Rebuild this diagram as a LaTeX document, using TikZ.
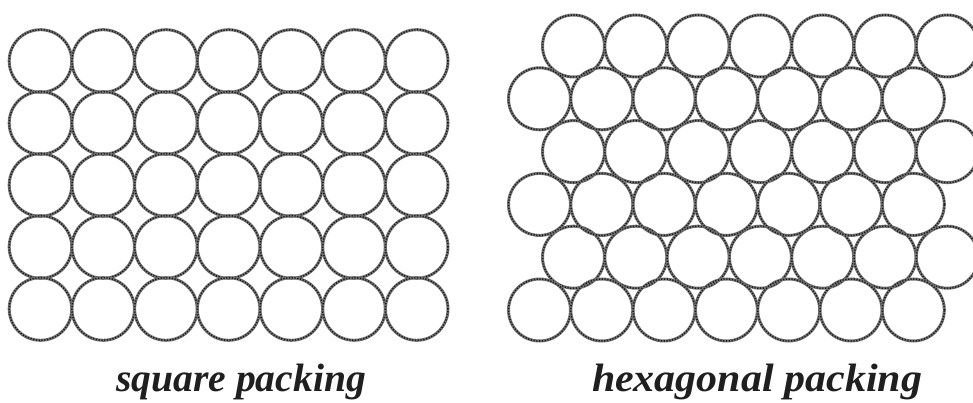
\documentclass[tikz,border=0pt]{standalone}
\usepackage{fontspec}
\setmainfont{Liberation Serif}
\begin{document}
\begin{tikzpicture}[x=1pt,y=-1pt,
  ring/.style={draw=black!55,line width=3pt},
  ringtex/.style={draw=black!90,line width=1.5pt,dash pattern=on 1.2pt off 1.6pt},
  caption/.style={font=\fontsize{39.6}{42}\selectfont\bfseries\itshape,anchor=base,inner sep=0pt,text=black!88}]
\useasboundingbox (0,0) rectangle (973,403);
\clip (0,0) rectangle (973,403);
% square packing
\foreach \j in {0,...,4}{
  \foreach \i in {0,...,6}{
    \draw[ring] (40.5+62.7*\i, 61+62*\j) circle[radius=31.3pt];
    \draw[ringtex] (40.5+62.7*\i, 61+62*\j) circle[radius=31.3pt];
  }
}
% hexagonal packing
\foreach \j in {0,2,4}{
  \foreach \i in {0,...,6}{
    \draw[ring] (573.5+62.3*\i, 46+52.8*\j) circle[radius=31pt];
    \draw[ringtex] (573.5+62.3*\i, 46+52.8*\j) circle[radius=31pt];
  }
}
\foreach \j in {1,3,5}{
  \foreach \i in {0,...,6}{
    \draw[ring] (539.5+62.3*\i, 46+52.8*\j) circle[radius=31pt];
    \draw[ringtex] (539.5+62.3*\i, 46+52.8*\j) circle[radius=31pt];
  }
}
\node[caption] (sq) at (241,391) {square packing};
\node[caption,xscale=1.06] (hx) at (757,391) {hexagonal packing};
\end{tikzpicture}
\end{document}
